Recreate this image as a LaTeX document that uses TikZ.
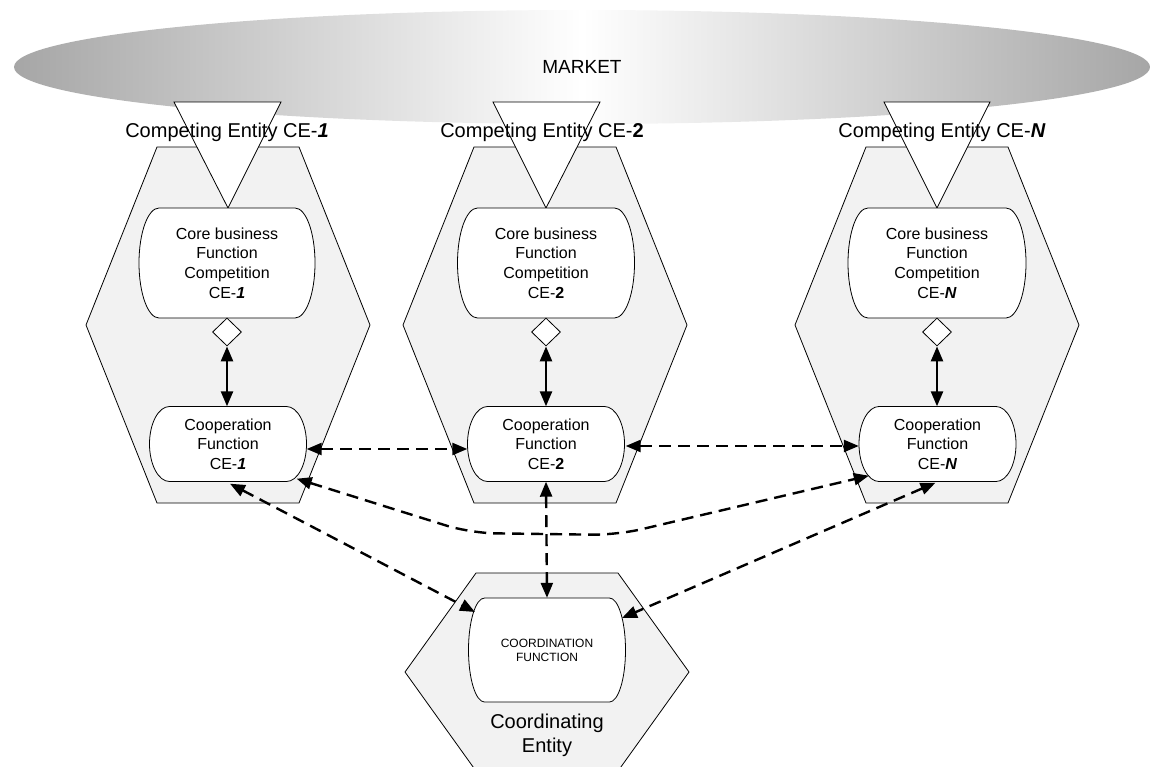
\documentclass[tikz,border=0pt]{standalone}
\usepackage{fontspec}
\setmainfont{Liberation Sans}
\usetikzlibrary{arrows.meta,calc,shapes.geometric}
\definecolor{hexgray}{HTML}{F2F2F2}
\definecolor{mktgray}{HTML}{A6A6A6}

% pill-shaped box with bulging sides: name, cx, cy, w, h, r, text, font
\newcommand\pillnode[8]{%
  \pgfmathsetmacro\pL{#2-#4/2}\pgfmathsetmacro\pR{#2+#4/2}%
  \pgfmathsetmacro\pT{#3-#5/2}\pgfmathsetmacro\pB{#3+#5/2}%
  \pgfmathsetmacro\pkr{0.448*#6}\pgfmathsetmacro\pkh{0.552*#5/2}%
  \draw[boxline] (\pL+#6,\pT) -- (\pR-#6,\pT)
    .. controls (\pR-\pkr,\pT) and (\pR,#3-\pkh) .. (\pR,#3)
    .. controls (\pR,#3+\pkh) and (\pR-\pkr,\pB) .. (\pR-#6,\pB)
    -- (\pL+#6,\pB)
    .. controls (\pL+\pkr,\pB) and (\pL,#3+\pkh) .. (\pL,#3)
    .. controls (\pL,#3-\pkh) and (\pL+\pkr,\pT) .. cycle;
  \node[pilltext, minimum width=#4, minimum height=#5, font=#8] (#1) at (#2,#3) {#7};
}

\tikzset{
  hexa/.style={draw=black, fill=hexgray, line width=0.8pt, line join=miter},
  tri/.style={draw=black, fill=white, line width=0.8pt},
  boxline/.style={draw=black, fill=white, line width=0.8pt},
  pilltext/.style={inner sep=0pt, align=center, draw=none},
  lbl/.style={font=\fontsize{20}{24}\selectfont, inner sep=0pt},
  gate/.style={diamond, draw=black, fill=white, line width=0.8pt, inner sep=0pt, minimum width=29pt, minimum height=28pt},
  solidarrow/.style={line width=2.5pt, {Triangle[length=15pt,width=12pt]}-{Triangle[length=15pt,width=12pt]}},
  dasharrow/.style={line width=2.4pt, dash pattern=on 12pt off 7pt, {Triangle[length=15pt,width=12pt]}-{Triangle[length=15pt,width=12pt]}},
}

\begin{document}
\begin{tikzpicture}[x=1pt,y=-1pt]
\useasboundingbox (0,0) rectangle (1151,766);

% market
\node[ellipse, inner sep=0pt, minimum width=1136pt, minimum height=114pt,
      left color=mktgray, right color=mktgray, middle color=white,
      font=\fontsize{19}{22}\selectfont] (market) at (582,67) {MARKET};

% hexagons
\draw[hexa] (157,147) -- (299,147) -- (370,325) -- (299,503) -- (157,503) -- (86,325) -- cycle;
\draw[hexa] (474,147) -- (616,147) -- (687,325) -- (616,503) -- (474,503) -- (403,325) -- cycle;
\draw[hexa] (866,147) -- (1008,147) -- (1079,325) -- (1008,503) -- (866,503) -- (795,325) -- cycle;
\draw[hexa] (476,573) -- (618,573) -- (689,672) -- (618,771) -- (476,771) -- (405,672) -- cycle;

% triangles from market
\draw[tri] (174,102) -- (281,102) -- (228,208) -- cycle;
\draw[tri] (493,102) -- (600,102) -- (546,208) -- cycle;
\draw[tri] (884,102) -- (990,102) -- (937,208) -- cycle;

% entity labels
\node[lbl] (lab1) at (227,132) {Competing Entity CE-\textbf{\textit{1}}};
\node[lbl] (lab2) at (542,132) {Competing Entity CE-\textbf{2}};
\node[lbl] (labN) at (942,132) {Competing Entity CE-\textbf{\textit{N}}};
\node[font=\fontsize{20}{24}\selectfont, align=center, inner sep=0pt] (labC) at (547,735) {Coordinating\\Entity};

% core business boxes
\pillnode{core1}{227}{263}{176}{110}{20}{Core business\\Function\\Competition\\CE-\textbf{\textit{1}}}{\fontsize{16}{19.8}\selectfont}
\pillnode{core2}{546}{263}{177}{110}{20}{Core business\\Function\\Competition\\CE-\textbf{2}}{\fontsize{16}{19.8}\selectfont}
\pillnode{coreN}{937}{263}{178}{110}{20}{Core business\\Function\\Competition\\CE-\textbf{\textit{N}}}{\fontsize{16}{19.8}\selectfont}

% cooperation boxes
\pillnode{c1}{228}{444}{157}{75}{20}{Cooperation\\Function\\CE-\textbf{\textit{1}}}{\fontsize{16}{19.5}\selectfont}
\pillnode{c2}{546}{444}{157}{75}{20}{Cooperation\\Function\\CE-\textbf{2}}{\fontsize{16}{19.5}\selectfont}
\pillnode{cN}{937.5}{444}{157}{75}{20}{Cooperation\\Function\\CE-\textbf{\textit{N}}}{\fontsize{16}{19.5}\selectfont}

% coordination box
\pillnode{cf}{547}{650}{157}{104}{16}{COORDINATION\\FUNCTION}{\fontsize{12}{14}\selectfont}

% diamonds
\node[gate] (d1) at (227,332) {};
\node[gate] (d2) at (546,332) {};
\node[gate] (dN) at (937,332) {};

% solid arrows
\draw[solidarrow] (d1.south) -- (d1.south |- c1.north);
\draw[solidarrow] (d2.south) -- (d2.south |- c2.north);
\draw[solidarrow] (dN.south) -- (dN.south |- cN.north);

% dashed arrows
\coordinate (w1) at (470,533);
\coordinate (w2) at (617,535);
\draw[dasharrow] ($(c1.east)+(0,5)$) -- ($(c2.west)+(0,5)$);
\draw[dasharrow] ($(c2.east)+(1,2)$) -- ($(cN.west)+(0,2)$);
\draw[dasharrow, rounded corners=25pt] ($(c1.south east)+(-10,-3)$) -- (w1) -- (w2) -- ($(cN.south west)+(10,-6)$);
\draw[dasharrow] ($(c1.south)+(2,2)$) -- ($(cf.center)+(-72,-38)$);
\draw[dasharrow] (c2.south) -- (cf.north);
\draw[dasharrow] ($(cN.south)+(-2,1)$) -- ($(cf.center)+(75,-32)$);
\end{tikzpicture}
\end{document}
